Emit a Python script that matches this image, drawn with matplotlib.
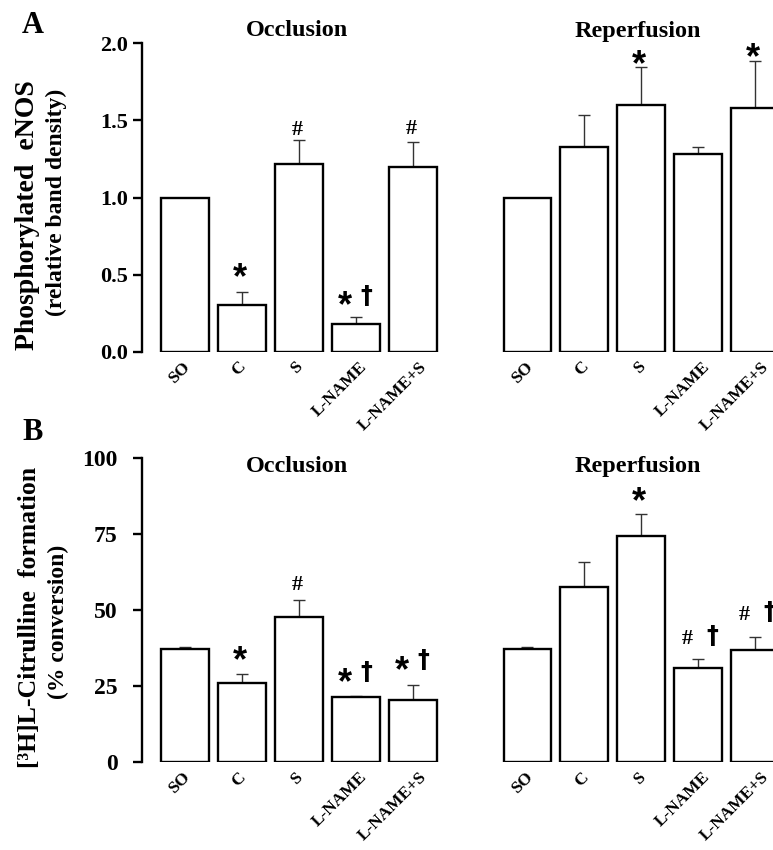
import numpy as np
import matplotlib
matplotlib.use("Agg")
import matplotlib.pyplot as plt
import matplotlib.transforms as mtransforms

# groups on the x axis
groups = ["SO", "C", "S", "L-NAME", "L-NAME+S"]

# A: phosphorylated eNOS (relative band density), mean and SEM
enos_occ = [1.00, 0.30, 1.22, 0.18, 1.20]
enos_occ_err = [0.00, 0.085, 0.15, 0.045, 0.16]
enos_rep = [1.00, 1.33, 1.60, 1.28, 1.58]
enos_rep_err = [0.00, 0.205, 0.245, 0.05, 0.305]

# B: [3H]L-citrulline formation (% conversion), mean and SEM
citr_occ = [37.1, 25.9, 47.6, 21.5, 20.4]
citr_occ_err = [0.9, 3.0, 5.8, 0.4, 5.0]
citr_rep = [37.1, 57.6, 74.4, 30.9, 36.9]
citr_rep_err = [0.9, 8.3, 7.0, 2.9, 4.1]

# significance marks: (bar index, symbols)
enos_occ_marks = [(1, "*"), (2, "#"), (3, "*†"), (4, "#")]
enos_rep_marks = [(2, "*"), (4, "*")]
citr_occ_marks = [(1, "*"), (2, "#"), (3, "*†"), (4, "*†")]
citr_rep_marks = [(2, "*"), (3, "#†"), (4, "#†")]

plt.rcParams["font.family"] = ["Liberation Serif", "DejaVu Serif"]
plt.rcParams["font.weight"] = "bold"

W, H = 773, 850
fig = plt.figure(figsize=(W / 100, H / 100), dpi=100)


def rect(left, bottom, top, width=305):
    return [left / W, 1 - bottom / H, width / W, (bottom - top) / H]


def put_mark(ax, i, top, sym, gap):
    # gap in pixels above the error bar cap
    styles = {"*": ("Liberation Sans", 26, -0.30),
              "#": ("Liberation Serif", 16, -0.10),
              "†": ("DejaVu Sans", 17, 0.02)}
    if len(sym) == 1:
        dxs = [-2]
    elif sym[0] == "*":
        dxs = [-11, 10]
    else:
        dxs = [-11, 14]
    for s, dx in zip(sym, dxs):
        fam, fs, corr = styles[s]
        ax.annotate(s, xy=(i, top), xytext=(dx * 0.72, gap * 0.72 + corr * fs),
                    textcoords="offset points", ha="center", va="center",
                    fontsize=fs, family=fam, fontweight="bold",
                    annotation_clip=False)


def panel(ax, vals, errs, ymax, yticks, ylabels, marks, gaps, tick_fs, tick_pad):
    x = np.arange(len(groups))
    ax.bar(x, vals, width=0.84, color="white", edgecolor="black",
           linewidth=1.7, zorder=2)
    ax.errorbar(x, vals, yerr=[np.zeros(len(vals)), errs], fmt="none",
                ecolor="#333333", elinewidth=1.0, capsize=4, capthick=1.0,
                zorder=1)
    ax.set_xlim(-0.754, 4.6)
    ax.set_ylim(0, ymax)
    for s in ["top", "right", "bottom"]:
        ax.spines[s].set_visible(False)
    if yticks is None:
        ax.spines["left"].set_visible(False)
        ax.set_yticks([])
    else:
        ax.spines["left"].set_linewidth(1.7)
        ax.set_yticks(yticks)
        ax.set_yticklabels(ylabels, fontsize=tick_fs)
        ax.tick_params(axis="y", direction="out", length=6.5, width=1.7,
                       pad=tick_pad)
    ax.set_xticks(x)
    ax.set_xticklabels(groups, rotation=45, ha="right", va="top",
                       fontsize=12.5)
    ax.tick_params(axis="x", length=0, pad=5)
    ax.patch.set_visible(False)
    for (i, sym), g in zip(marks, gaps):
        put_mark(ax, i, vals[i] + errs[i], sym, g)


ax1 = fig.add_axes(rect(142, 351.7, 43.3))
ax2 = fig.add_axes(rect(484.5, 351.7, 43.3))
ax3 = fig.add_axes(rect(142, 762.3, 457.7))
ax4 = fig.add_axes(rect(484.5, 762.3, 457.7))

a_ticks = [0, 0.5, 1.0, 1.5, 2.0]
a_labels = ["0.0", "0.5", "1.0", "1.5", "2.0"]
b_ticks = [0, 25, 50, 75, 100]
b_labels = ["0", "25", "50", "75", "100"]

panel(ax1, enos_occ, enos_occ_err, 2.0, a_ticks, a_labels,
      enos_occ_marks, [24, 13, 21, 15], 16, 3.6)
panel(ax2, enos_rep, enos_rep_err, 2.0, None, None,
      enos_rep_marks, [12.5, 13], 16, 3.6)
panel(ax3, citr_occ, citr_occ_err, 100, b_ticks, b_labels,
      citr_occ_marks, [23, 17, 23, 24], 17, 11)
panel(ax4, citr_rep, citr_rep_err, 100, None, None,
      citr_rep_marks, [23, 23, 25], 17, 11)

# longer rotated labels sit a little further right, as in the original
fig.canvas.draw()
renderer = fig.canvas.get_renderer()
for ax in (ax1, ax2, ax3, ax4):
    for lbl in ax.get_xticklabels():
        w = lbl.get_window_extent(renderer).width
        shift = mtransforms.ScaledTranslation((4 + 0.17 * w) / 100, 0,
                                              fig.dpi_scale_trans)
        lbl.set_transform(lbl.get_transform() + shift)


def ftext(px, py, s, **kw):
    fig.text(px / W, 1 - py / H, s, **kw)


# panel letters and titles
ftext(32.5, 33, "A", fontsize=22, ha="center", va="baseline")
ftext(32.5, 440, "B", fontsize=22, ha="center", va="baseline")
for py in (36.5, 471.7):
    ftext(297, py, "Occlusion", fontsize=17.5, ha="center", va="baseline")
    ftext(637.5, py, "Reperfusion", fontsize=17.5, ha="center", va="baseline")

# y axis labels
ftext(28, 215, "Phosphorylated  eNOS", fontsize=20, rotation=90,
      ha="center", va="center")
ftext(56, 202, "(relative band density)", fontsize=17, rotation=90,
      ha="center", va="center")
ftext(30, 617, "[³H]L-Citrulline  formation", fontsize=18.5, rotation=90,
      ha="center", va="center")
ftext(58, 622, "(% conversion)", fontsize=17, rotation=90,
      ha="center", va="center")

fig.savefig("out.png", dpi=100)
